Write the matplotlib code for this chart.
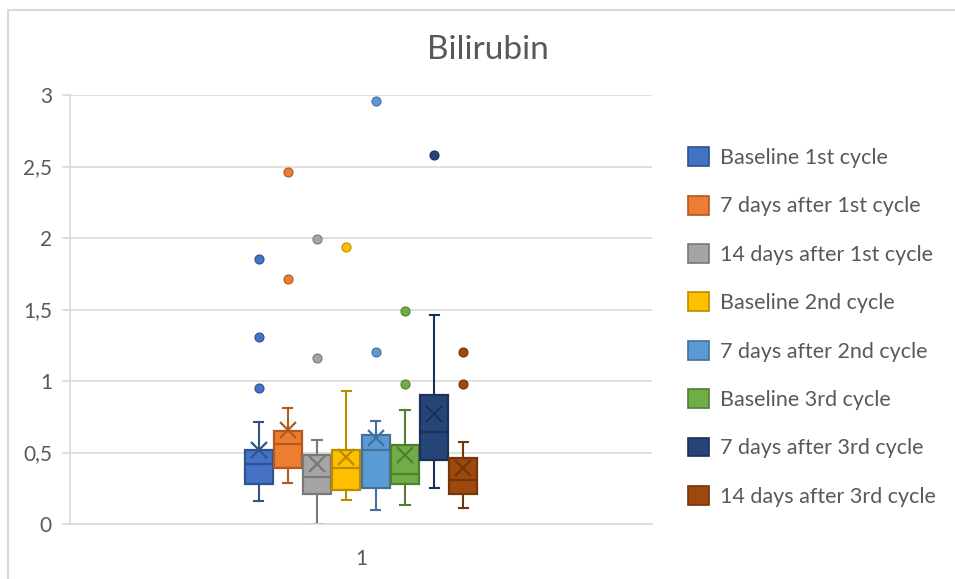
import matplotlib
matplotlib.use("Agg")
import matplotlib.pyplot as plt
from matplotlib.patches import Patch, Rectangle
from matplotlib.ticker import FuncFormatter

plt.rcParams['font.family'] = ['Lato', 'DejaVu Sans']

labels = ['Baseline 1st cycle', '7 days after 1st cycle', '14 days after 1st cycle',
          'Baseline 2nd cycle', '7 days after 2nd cycle', 'Baseline 3rd cycle',
          '7 days after 3rd cycle', '14 days after 3rd cycle']

# summary statistics per group
whislo = [0.16, 0.29, 0.00, 0.17, 0.10, 0.13, 0.25, 0.11]
q1 = [0.28, 0.39, 0.21, 0.24, 0.25, 0.28, 0.45, 0.21]
med = [0.42, 0.56, 0.33, 0.39, 0.52, 0.35, 0.64, 0.31]
q3 = [0.52, 0.65, 0.48, 0.52, 0.62, 0.55, 0.90, 0.46]
whishi = [0.71, 0.81, 0.59, 0.93, 0.72, 0.80, 1.46, 0.57]
means = [0.52, 0.66, 0.42, 0.47, 0.60, 0.48, 0.77, 0.39]
fliers = [[0.95, 1.31, 1.85], [1.71, 2.46], [1.16, 1.99], [1.94],
          [1.20, 2.96], [0.98, 1.49], [2.58], [0.98, 1.20]]

fill = ['#4472C4', '#ED7D31', '#A5A5A5', '#FFC000', '#5B9BD5', '#70AD47', '#264478', '#9E480E']
edge = ['#2F528F', '#AE5A21', '#787878', '#BC8C00', '#41719C', '#507E32', '#1B3157', '#73350A']

text_col = '#595959'
grid_col = '#D9D9D9'

fig = plt.figure(figsize=(9.55, 5.79), dpi=100)
ax = fig.add_axes([70 / 955, 1 - 524 / 579, 582 / 955, 429 / 579])

# chart border
fig.patches.append(Rectangle((7.5 / 955, -0.1), 1.2, 1 - 10 / 579 + 0.1,
                             transform=fig.transFigure, fill=False,
                             edgecolor=grid_col, linewidth=1.5, zorder=0))

step = 0.0503
for i in range(len(labels)):
    st = dict(label=labels[i], whislo=whislo[i], q1=q1[i], med=med[i], q3=q3[i],
              whishi=whishi[i], mean=means[i], fliers=fliers[i])
    pos = 1 + (i - 3.5) * step
    ax.bxp([st], positions=[pos], widths=0.048, capwidths=0.016,
           patch_artist=True, showmeans=True, manage_ticks=False,
           boxprops=dict(facecolor=fill[i], edgecolor=edge[i], linewidth=1.6),
           whiskerprops=dict(color=edge[i], linewidth=1.5),
           capprops=dict(color=edge[i], linewidth=1.5),
           medianprops=dict(color=edge[i], linewidth=1.6),
           meanprops=dict(marker='x', markersize=11, markeredgecolor=edge[i],
                          markeredgewidth=1.6),
           flierprops=dict(marker='o', markersize=6.5, markerfacecolor=fill[i],
                           markeredgecolor=edge[i], markeredgewidth=0.8))

ax.set_xlim(0.5, 1.5)
ax.set_ylim(0, 3)
ax.set_yticks([0, 0.5, 1, 1.5, 2, 2.5, 3])
ax.yaxis.set_major_formatter(FuncFormatter(lambda v, p: ('%g' % v).replace('.', ',')))
ax.set_xticks([1])
ax.set_xticklabels(['1'])
ax.tick_params(axis='x', length=0, pad=18, labelsize=15, labelcolor=text_col)
ax.tick_params(axis='y', length=6, width=1.2, color=grid_col, pad=7,
               labelsize=15, labelcolor=text_col)
ax.grid(axis='y', color=grid_col, linewidth=1.2)
ax.set_axisbelow(True)
for s in ['top', 'right']:
    ax.spines[s].set_visible(False)
for s in ['left', 'bottom']:
    ax.spines[s].set_color(grid_col)
    ax.spines[s].set_linewidth(1.2)

fig.text(488 / 955, 1 - 50 / 579, 'Bilirubin', ha='center', va='center',
         fontsize=24, color=text_col)

handles = [Patch(facecolor=fill[i], edgecolor=edge[i], linewidth=1.2) for i in range(len(labels))]
fig.legend(handles, labels, loc='center left', bbox_to_anchor=(679.5 / 955, 1 - 327 / 579),
           frameon=False, fontsize=15.5, labelcolor=text_col, handlelength=0.97,
           handleheight=0.97, handletextpad=0.5, labelspacing=1.28, borderaxespad=0)

fig.savefig('out.png', dpi=100)
